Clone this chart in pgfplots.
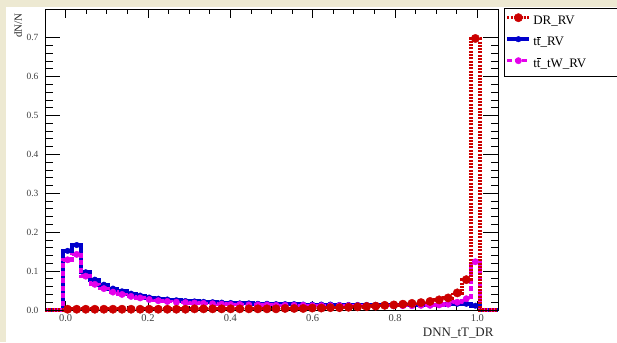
\documentclass[border=0pt]{standalone}
\usepackage{pgfplots}
\usepackage{pgfplotstable}
\pgfplotsset{compat=1.18}
\usepackage{fontspec}
\setmainfont{Liberation Serif}
\definecolor{rootred}{RGB}{204,0,0}
\definecolor{rootblue}{RGB}{0,0,204}
\definecolor{rootmag}{RGB}{228,0,235}
\definecolor{bgbeige}{RGB}{237,233,210}

\pgfplotstableread{
x      red    blue   mag
-0.050 0      0      0
-0.039 0      0      0
-0.017 0      0      0
0.005  0.002  0.152  0.129
0.027  0.002  0.167  0.143
0.049  0.002  0.097  0.087
0.071  0.002  0.078  0.066
0.093  0.002  0.065  0.055
0.115  0.002  0.055  0.046
0.137  0.002  0.048  0.040
0.159  0.002  0.042  0.035
0.181  0.002  0.037  0.031
0.203  0.002  0.032  0.027
0.225  0.002  0.029  0.024
0.247  0.002  0.027  0.022
0.269  0.002  0.025  0.020
0.291  0.002  0.023  0.019
0.313  0.003  0.022  0.018
0.335  0.003  0.021  0.017
0.357  0.003  0.020  0.016
0.379  0.003  0.019  0.015
0.401  0.003  0.018  0.014
0.423  0.003  0.017  0.014
0.445  0.003  0.017  0.013
0.467  0.003  0.016  0.013
0.489  0.003  0.016  0.013
0.511  0.003  0.015  0.012
0.533  0.004  0.015  0.012
0.555  0.004  0.015  0.012
0.577  0.004  0.014  0.012
0.599  0.005  0.014  0.011
0.621  0.005  0.014  0.011
0.643  0.006  0.014  0.011
0.665  0.006  0.013  0.011
0.687  0.007  0.013  0.011
0.709  0.008  0.013  0.011
0.731  0.009  0.013  0.011
0.753  0.010  0.013  0.011
0.775  0.012  0.013  0.011
0.797  0.013  0.013  0.011
0.819  0.015  0.013  0.011
0.841  0.017  0.013  0.011
0.863  0.019  0.013  0.012
0.885  0.022  0.014  0.012
0.907  0.026  0.014  0.013
0.929  0.031  0.015  0.015
0.951  0.044  0.016  0.020
0.973  0.078  0.016  0.029
0.995  0.698  0.011  0.124
1.017  0      0      0
1.039  0      0      0
1.050  0      0      0
}\histdata

\pgfplotsset{
  redstyle/.style={rootred, line width=3.5bp, dash pattern=on 2bp off 1.3bp, line cap=butt,
    const plot mark mid, mark=*, mark size=4.2bp,
    mark options={solid, fill=rootred, draw=rootred, line width=0.4bp}},
  bluestyle/.style={rootblue, line width=4bp, solid, line cap=butt,
    const plot mark mid, mark=*, mark size=2.8bp,
    mark options={solid, fill=rootblue, draw=rootblue, line width=0.4bp}},
  magstyle/.style={rootmag, line width=3.5bp, dash pattern=on 5bp off 2.5bp, line cap=butt,
    const plot mark mid, mark=*, mark size=3.2bp,
    mark options={solid, fill=rootmag, draw=rootmag, line width=0.4bp}},
}

\begin{document}
\begin{tikzpicture}[x=1bp,y=1bp]
\fill[bgbeige] (0,0) rectangle (617,342);
\fill[white] (6,0) rectangle (617,335);
\begin{axis}[
  at={(45bp,32bp)}, anchor=south west,
  scale only axis, width=453bp, height=300.5bp,
  xmin=-0.05, xmax=1.05, ymin=0, ymax=0.7725,
  clip=false, axis on top,
  axis line style={black, line width=0.8bp},
  tick align=inside,
  xtick={0,0.2,0.4,0.6,0.8,1.0}, minor x tick num=3,
  ytick={0,0.1,0.2,0.3,0.4,0.5,0.6,0.7}, minor y tick num=4,
  xtick style={black, line width=0.8bp, /pgfplots/major tick length=9bp, /pgfplots/minor tick length=4.5bp},
  ytick style={black, line width=0.8bp, /pgfplots/major tick length=15bp, /pgfplots/minor tick length=7.5bp},
  /pgf/number format/fixed, /pgf/number format/fixed zerofill,
  /pgf/number format/precision=1, /pgf/number format/assume math mode=true,
  xticklabel style={font=\fontsize{10.5}{12}\selectfont, text=black!75, yshift=-1.5bp},
  yticklabel style={font=\fontsize{9.5}{11}\selectfont, text=black!75, xshift=-3bp},
  xlabel={DNN\_tT\_DR},
  every axis x label/.style={at={(axis description cs:1,0)}, anchor=base east,
    yshift=-26bp, xshift=-1bp, font=\fontsize{13}{15}\selectfont, text=black!85},
  ylabel={dN/N},
  every axis y label/.style={at={(axis description cs:-0.0508,0.998)}, rotate=90,
    anchor=base east, font=\fontsize{11}{13}\selectfont, text=black!85},
  legend style={
    at={(axis description cs:1.0132,1.004)}, anchor=north west,
    draw=black, line width=0.8bp, fill=white,
    font=\fontsize{13}{15}\selectfont,
    inner xsep=1bp, inner ysep=3.5bp, row sep=3.5bp, column sep=0bp,
    nodes={inner sep=2bp, text height=10bp, text depth=4bp},
  },
  legend cell align=left,
  legend image code/.code={\draw[#1, mark indices={2}] plot coordinates {(0bp,3.5bp) (11bp,3.5bp) (22bp,3.5bp)};},
]
\addlegendimage{redstyle}
\addlegendentry{\makebox[81bp][l]{DR\_RV}}
\addlegendimage{bluestyle}
\addlegendentry{\makebox[81bp][l]{t$\overline{\mbox{t}}$\_RV}}
\addlegendimage{magstyle}
\addlegendentry{\makebox[81bp][l]{t$\overline{\mbox{t}}$\_tW\_RV}}

\addplot[bluestyle, mark indices={4,...,49}, forget plot] table[x=x, y=blue] {\histdata};
\addplot[magstyle, mark indices={4,...,49}, forget plot] table[x=x, y=mag] {\histdata};
\addplot[redstyle, mark indices={4,...,49}, forget plot] table[x=x, y=red] {\histdata};
\end{axis}
\pgfresetboundingbox
\useasboundingbox (0,0) rectangle (617,342);
\end{tikzpicture}
\end{document}
